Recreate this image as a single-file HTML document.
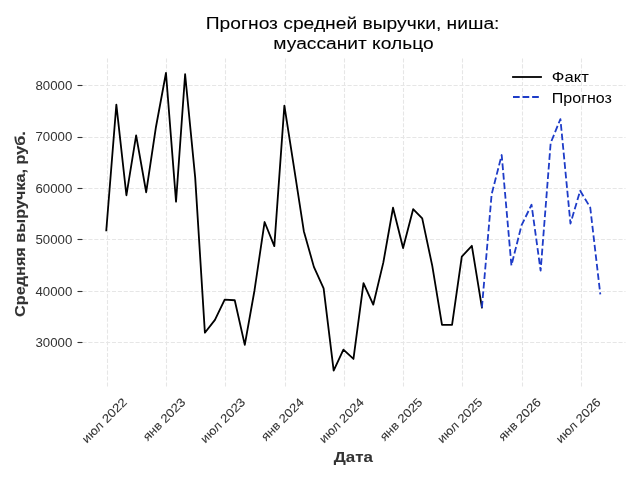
<!DOCTYPE html>
<html><head><meta charset="utf-8"><title>Прогноз средней выручки</title>
<style>
html,body{margin:0;padding:0;background:#fff;width:640px;height:480px;overflow:hidden}
svg{display:block;will-change:transform}
text{font-family:"Liberation Sans",sans-serif}
.g{fill:none;stroke:#e6e6e6;stroke-width:1.11;stroke-dasharray:4.11 1.78}
.t{fill:none;stroke:#333;stroke-width:1.11}
.k{fill:none;stroke:#000;stroke-width:1.806;stroke-linecap:square;stroke-linejoin:round}
.b{fill:none;stroke:#1e3cc8;stroke-width:1.806;stroke-dasharray:6.68 2.89;stroke-linejoin:round}
</style>
</head><body>
<svg width="640" height="480" viewBox="0 0 640 480">
<rect width="640" height="480" fill="#fff"/>
<path d="M107.5 386.5V58.5" class="g"/>
<path d="M166.5 386.5V58.5" class="g"/>
<path d="M225.5 386.5V58.5" class="g"/>
<path d="M285.5 386.5V58.5" class="g"/>
<path d="M344.5 386.5V58.5" class="g"/>
<path d="M403.5 386.5V58.5" class="g"/>
<path d="M462.5 386.5V58.5" class="g"/>
<path d="M522.5 386.5V58.5" class="g"/>
<path d="M581.5 386.5V58.5" class="g"/>
<path d="M82.5 342.5H625.5" class="g"/>
<path d="M82.5 291.5H625.5" class="g"/>
<path d="M82.5 239.5H625.5" class="g"/>
<path d="M82.5 188.5H625.5" class="g"/>
<path d="M82.5 137.5H625.5" class="g"/>
<path d="M82.5 85.5H625.5" class="g"/>
<path d="M82.5 342.5H77.5" class="t"/>
<path d="M82.5 291.5H77.5" class="t"/>
<path d="M82.5 239.5H77.5" class="t"/>
<path d="M82.5 188.5H77.5" class="t"/>
<path d="M82.5 137.5H77.5" class="t"/>
<path d="M82.5 85.5H77.5" class="t"/>
<path d="M106.29 230.33 L116.35 104.54 L126.4 195.27 L136.13 135.37 L146.19 192.24 L155.92 127.22 L165.97 73.01 L176.03 201.75 L185.11 74.25 L195.17 177.41 L204.9 332.72 L214.95 319.89 L224.68 299.62 L234.74 300.24 L244.79 344.87 L254.53 290.24 L264.58 222.03 L274.31 246.09 L284.37 105.66 L294.42 170.06 L303.83 231.16 L313.88 266.88 L323.62 288.37 L333.67 370.64 L343.4 349.68 L353.46 358.95 L363.51 283.05 L373.24 304.67 L383.3 262.64 L393.03 207.74 L403.09 248.04 L413.14 209.23 L422.22 218.43 L432.28 265.93 L442.01 324.79 L452.06 324.79 L461.8 256.57 L471.85 245.83 L481.91 307.57" class="k"/>
<path d="M481.91 307.57 L491.64 194.22 L501.69 155 L511.42 265.47 L521.48 225.48 L531.53 204.71 L540.62 270.71 L550.67 142.97 L560.4 119.07 L570.46 223.57 L580.19 190.68 L590.24 207.48 L600.3 294.35" class="b"/>
<path d="M513 77 L541 77" class="k"/>
<path d="M513 97 L541 97" class="b"/>
<text x="86.85" y="443.81" transform="rotate(-45 86.85 443.81)" style="font-size:12.03px;fill:#333333;stroke:#333333;stroke-width:0.08px" textLength="57.77" lengthAdjust="spacingAndGlyphs">июл 2022</text>
<text x="147.7" y="441.47" transform="rotate(-45 147.7 441.47)" style="font-size:12.03px;fill:#333333;stroke:#333333;stroke-width:0.08px" textLength="54.46" lengthAdjust="spacingAndGlyphs">янв 2023</text>
<text x="205.24" y="443.81" transform="rotate(-45 205.24 443.81)" style="font-size:12.03px;fill:#333333;stroke:#333333;stroke-width:0.08px" textLength="57.77" lengthAdjust="spacingAndGlyphs">июл 2023</text>
<text x="266.09" y="441.47" transform="rotate(-45 266.09 441.47)" style="font-size:12.03px;fill:#333333;stroke:#333333;stroke-width:0.08px" textLength="54.46" lengthAdjust="spacingAndGlyphs">янв 2024</text>
<text x="323.96" y="443.81" transform="rotate(-45 323.96 443.81)" style="font-size:12.03px;fill:#333333;stroke:#333333;stroke-width:0.08px" textLength="57.77" lengthAdjust="spacingAndGlyphs">июл 2024</text>
<text x="384.81" y="441.47" transform="rotate(-45 384.81 441.47)" style="font-size:12.03px;fill:#333333;stroke:#333333;stroke-width:0.08px" textLength="54.46" lengthAdjust="spacingAndGlyphs">янв 2025</text>
<text x="442.35" y="443.81" transform="rotate(-45 442.35 443.81)" style="font-size:12.03px;fill:#333333;stroke:#333333;stroke-width:0.08px" textLength="57.77" lengthAdjust="spacingAndGlyphs">июл 2025</text>
<text x="503.2" y="441.47" transform="rotate(-45 503.2 441.47)" style="font-size:12.03px;fill:#333333;stroke:#333333;stroke-width:0.08px" textLength="54.46" lengthAdjust="spacingAndGlyphs">янв 2026</text>
<text x="560.74" y="443.81" transform="rotate(-45 560.74 443.81)" style="font-size:12.03px;fill:#333333;stroke:#333333;stroke-width:0.08px" textLength="57.77" lengthAdjust="spacingAndGlyphs">июл 2026</text>
<text x="353.4" y="461.82" style="font-size:14.44px;font-weight:700;text-anchor:middle;fill:#333333;stroke:#333333;stroke-width:0.05px" textLength="39.16" lengthAdjust="spacingAndGlyphs">Дата</text>
<text x="72.27" y="347.05" style="font-size:12.03px;text-anchor:end;fill:#333333" textLength="36.80" lengthAdjust="spacingAndGlyphs">30000</text>
<text x="72.27" y="295.65" style="font-size:12.03px;text-anchor:end;fill:#333333" textLength="36.80" lengthAdjust="spacingAndGlyphs">40000</text>
<text x="72.27" y="244.25" style="font-size:12.03px;text-anchor:end;fill:#333333" textLength="36.80" lengthAdjust="spacingAndGlyphs">50000</text>
<text x="72.27" y="192.85" style="font-size:12.03px;text-anchor:end;fill:#333333" textLength="36.80" lengthAdjust="spacingAndGlyphs">60000</text>
<text x="72.27" y="141.44" style="font-size:12.03px;text-anchor:end;fill:#333333" textLength="36.80" lengthAdjust="spacingAndGlyphs">70000</text>
<text x="72.27" y="90.04" style="font-size:12.03px;text-anchor:end;fill:#333333" textLength="36.80" lengthAdjust="spacingAndGlyphs">80000</text>
<text x="25.31" y="224.03" transform="rotate(-90 25.31 224.03)" style="font-size:14.44px;font-weight:700;text-anchor:middle;fill:#333333;stroke:#333333;stroke-width:0.10px" textLength="185.80" lengthAdjust="spacingAndGlyphs">Средняя выручка, руб.</text>
<text x="205.75" y="28.74" style="font-size:17.33px;stroke:#000000;stroke-width:0.08px" textLength="293.69" lengthAdjust="spacingAndGlyphs">Прогноз средней выручки, ниша:</text>
<text x="273.39" y="49.3" style="font-size:17.33px;stroke:#000000;stroke-width:0.08px" textLength="160.21" lengthAdjust="spacingAndGlyphs">муассанит кольцо</text>
<text x="551.88" y="82.19" style="font-size:14.44px" textLength="36.95" lengthAdjust="spacingAndGlyphs">Факт</text>
<text x="551.88" y="102.57" style="font-size:14.44px" textLength="60.02" lengthAdjust="spacingAndGlyphs">Прогноз</text>
</svg>
</body></html>
